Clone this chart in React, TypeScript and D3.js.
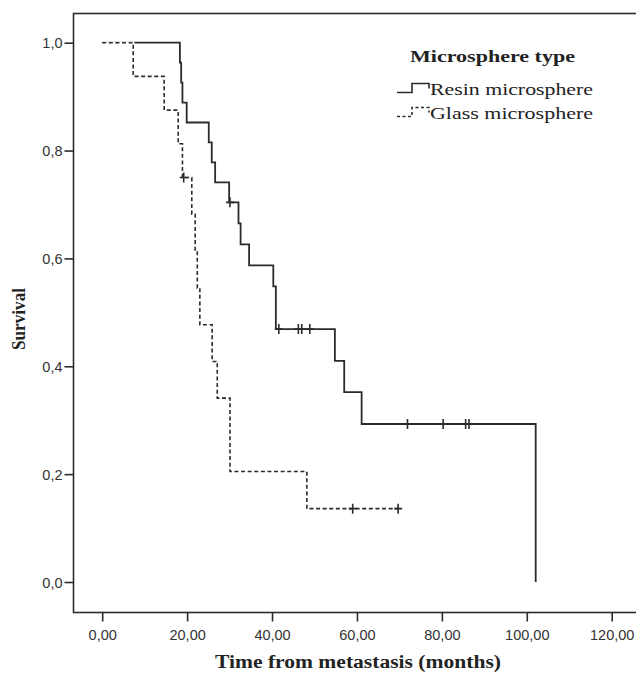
import React, { useEffect, useRef } from 'react'
import * as d3 from 'd3'

// Kaplan-Meier steps (time in months, survival after the step)
const resinTimes = [0, 18.3, 18.6, 18.9, 19.9, 25.1, 25.8, 26.6, 29.9, 32.1, 32.6, 34.6, 40.3, 40.9, 54.8, 57.0, 61.1, 102.1]
const resinSurvival = [1, 0.963, 0.926, 0.889, 0.852, 0.815, 0.778, 0.741, 0.704, 0.665, 0.626, 0.587, 0.548, 0.469, 0.41, 0.352, 0.293, 0]
const resinCensored = [30.1, 41.6, 46.2, 47.0, 48.9, 71.9, 80.3, 85.6, 86.4]

const glassTimes = [0, 7.3, 14.6, 17.9, 18.9, 21.1, 21.9, 22.4, 23.0, 25.9, 27.1, 30.1, 48.2]
const glassSurvival = [1, 0.9375, 0.875, 0.8125, 0.75, 0.682, 0.614, 0.545, 0.477, 0.409, 0.341, 0.205, 0.136]
const glassCensored = [19.2, 59.0, 69.7]

const xTicks = [0, 20, 40, 60, 80, 100, 120]
const yTicks = [0, 0.2, 0.4, 0.6, 0.8, 1.0]

const legendTitle = 'Microsphere type'
const seriesNames = ['Resin microsphere', 'Glass microsphere']

const W = 636
const H = 675
const serif = '"Liberation Serif", "Times New Roman", serif'
const sans = '"Liberation Sans", Arial, sans-serif'
const ink = '#2b2b2b'

function App() {
    const node = useRef<SVGSVGElement | null>(null)

    useEffect(() => {
        document.body.style.margin = '0'
        const svg = d3.select(node.current)
        svg.selectAll('*').remove()

        const x = d3.scaleLinear().domain([0, 120]).range([102.2, 611.7])
        const y = d3.scaleLinear().domain([0, 1]).range([582, 42.7])
        const comma = (f: string) => (v: number) => d3.format(f)(v).replace('.', ',')

        // frame (left, top and bottom run off the right edge)
        svg.append('rect')
            .attr('x', 73.5).attr('y', 13.5)
            .attr('width', 700).attr('height', 599)
            .attr('fill', 'none').attr('stroke', ink).attr('stroke-width', 1.6)

        const yAxis = svg.append('g')
            .attr('transform', 'translate(73.5,0)')
            .call(d3.axisLeft(y).tickValues(yTicks).tickSize(9).tickPadding(2).tickFormat(comma('.1f') as any))
        const xAxis = svg.append('g')
            .attr('transform', 'translate(0,612.5)')
            .call(d3.axisBottom(x).tickValues(xTicks).tickSize(9).tickPadding(6).tickFormat(comma('.2f') as any))
        for (const ax of [yAxis, xAxis]) {
            ax.select('.domain').remove()
            ax.selectAll('line').attr('stroke', ink).attr('stroke-width', 1.6)
            ax.selectAll('text')
                .attr('fill', '#333')
                .style('font-family', sans)
                .style('font-size', '14.5px')
        }
        yAxis.selectAll('text').attr('dy', '0.36em')
        xAxis.selectAll('text').attr('dy', '0.85em')

        const line = d3.line<[number, number]>()
            .x(d => x(d[0])).y(d => y(d[1]))
            .curve(d3.curveStepAfter)

        const stepAt = (times: number[], surv: number[], t: number) =>
            surv[Math.max(0, d3.bisectRight(times, t) - 1)]

        const resinPts: [number, number][] = resinTimes.map((t, i) => [t, resinSurvival[i]])
        const glassPts: [number, number][] = glassTimes.map((t, i) => [t, glassSurvival[i]])
        glassPts.push([d3.max(glassCensored)!, glassSurvival[glassSurvival.length - 1]])

        svg.append('path').attr('d', line(resinPts))
            .attr('fill', 'none').attr('stroke', ink).attr('stroke-width', 1.8)

        // glass sits on top; white underneath so the gaps of the dashes show
        svg.append('path').attr('d', line(glassPts))
            .attr('fill', 'none').attr('stroke', '#fff').attr('stroke-width', 2.4)
        svg.append('path').attr('d', line(glassPts))
            .attr('fill', 'none').attr('stroke', ink).attr('stroke-width', 1.6)
            .attr('stroke-dasharray', '4,2.6')

        const plus = (cx: number, cy: number) => `M${cx - 4},${cy}H${cx + 4}M${cx},${cy - 5}V${cy + 5}`
        svg.append('g').selectAll('path').data(resinCensored).enter().append('path')
            .attr('d', t => plus(x(t), y(stepAt(resinTimes, resinSurvival, t))))
            .attr('stroke', ink).attr('stroke-width', 1.6)
        svg.append('g').selectAll('path').data(glassCensored).enter().append('path')
            .attr('d', t => plus(x(t), y(stepAt(glassTimes, glassSurvival, t))))
            .attr('stroke', ink).attr('stroke-width', 1.6)

        // legend
        const lg = svg.append('g')
        lg.append('text').attr('x', 410).attr('y', 62)
            .attr('textLength', 165).attr('lengthAdjust', 'spacingAndGlyphs')
            .style('font-family', serif).style('font-weight', 'bold').style('font-size', '17px')
            .attr('fill', '#222').text(legendTitle)
        seriesNames.forEach((name, i) => {
            const oy = 92.5 + i * 24
            lg.append('path')
                .attr('d', `M397,${oy}H412V${oy - 9}H429V${oy - 4}`)
                .attr('fill', 'none').attr('stroke', ink).attr('stroke-width', 1.6)
                .attr('stroke-dasharray', i === 1 ? '3,2.5' : null)
            lg.append('text').attr('x', 430).attr('y', oy + 2.5)
                .attr('textLength', 163).attr('lengthAdjust', 'spacingAndGlyphs')
                .style('font-family', serif).style('font-size', '17px')
                .attr('fill', '#222').text(name)
        })

        // axis titles
        svg.append('text').attr('x', 358).attr('y', 668)
            .attr('text-anchor', 'middle')
            .attr('textLength', 286).attr('lengthAdjust', 'spacingAndGlyphs')
            .style('font-family', serif).style('font-weight', 'bold').style('font-size', '18px')
            .attr('fill', '#222').text('Time from metastasis (months)')
        svg.append('text')
            .attr('transform', 'translate(25,319) rotate(-90)')
            .attr('text-anchor', 'middle')
            .attr('textLength', 62).attr('lengthAdjust', 'spacingAndGlyphs')
            .style('font-family', serif).style('font-weight', 'bold').style('font-size', '18px')
            .attr('fill', '#222').text('Survival')
    }, [])

    return (
        <svg ref={node} width={W} height={H} style={{ display: 'block', background: '#fff' }} />
    )
}

export default App
